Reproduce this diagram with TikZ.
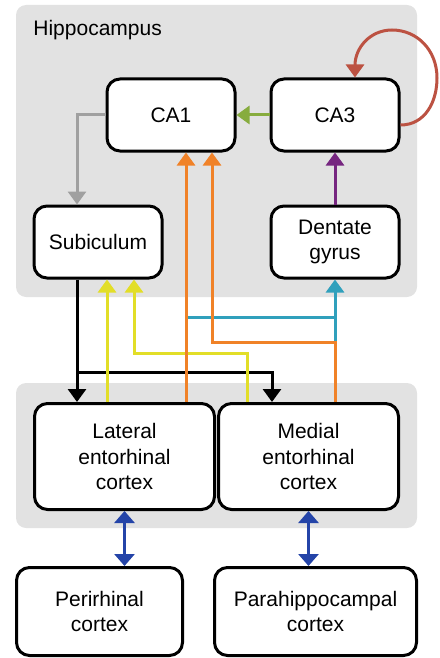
\documentclass[tikz,border=0pt]{standalone}
\usepackage{fontspec}
\setmainfont{Liberation Sans}
\usetikzlibrary{arrows.meta}
\definecolor{panelgray}{RGB}{226,226,226}
\definecolor{cagreen}{RGB}{135,172,62}
\definecolor{loopred}{RGB}{188,82,66}
\definecolor{dgpurple}{RGB}{118,38,128}
\definecolor{subgray}{RGB}{160,160,160}
\definecolor{pporange}{RGB}{240,130,40}
\definecolor{ppyellow}{RGB}{226,222,40}
\definecolor{ppteal}{RGB}{48,160,188}
\definecolor{ecblue}{RGB}{36,68,168}
\begin{document}
\begin{tikzpicture}[x=0.5pt,y=-0.5pt,
	box/.style={draw, line width=1.5pt, rounded corners=6.5pt, fill=white, align=center, inner sep=0pt, font=\fontsize{10.5}{12.75}\selectfont},
	panel/.style={fill=panelgray, rounded corners=5pt},
	conn/.style={line width=1.5pt, -{Triangle[width=9pt,length=6.5pt]}},
	twoway/.style={line width=1.6pt, {Triangle[width=10pt,length=6pt]}-{Triangle[width=10pt,length=6pt]}}]
		\useasboundingbox (0,0) rectangle (439,658);
		% grey panels
		\fill[panel] (16,5) rectangle (417,297);
		\fill[panel] (16,383) rectangle (417,528);
		\node[anchor=west, inner sep=0pt, font=\fontsize{10.5}{12.75}\selectfont] (hippo) at (33,30) {Hippocampus};
		% regions
		\node[box, minimum width=64pt, minimum height=36pt] (ca1) at (171,115) {CA1};
		\node[box, minimum width=64pt, minimum height=36pt] (ca3) at (335,115) {CA3};
		\node[box, minimum width=64pt, minimum height=36pt] (sub) at (98,242) {Subiculum};
		\node[box, minimum width=64pt, minimum height=36pt] (dg) at (335,242) {Dentate\\gyrus};
		\node[box, minimum width=90pt, minimum height=53pt] (lec) at (124.5,456.5) {Lateral\\entorhinal\\cortex};
		\node[box, minimum width=90pt, minimum height=53pt] (mec) at (308.5,456.5) {Medial\\entorhinal\\cortex};
		\node[box, minimum width=83pt, minimum height=44pt] (prc) at (99.5,611.5) {Perirhinal\\cortex};
		\node[box, minimum width=101pt, minimum height=44pt] (phc) at (315.5,611.5) {Parahippocampal\\cortex};
		% hippocampal loop
		\draw[conn, cagreen] (ca3.west) -- (ca1.east);
		\draw[conn, loopred] ([yshift=-5pt]ca3.east) .. controls (425,125) and (437,102) .. (437,78)
			.. controls (437,50) and (417,30) .. (392,30)
			.. controls (370,30) and (355,48) .. ([xshift=10pt]ca3.north);
		\draw[conn, dgpurple] (dg.north) -- (ca3.south);
		\draw[conn, subgray] (ca1.west) -| ([xshift=-10.5pt]sub.north);
		% subiculum output
		\coordinate (subsplit) at (77,372);
		\draw[conn] ([xshift=-10.5pt]sub.south) -- ([xshift=-23.75pt]lec.north);
		\draw[conn] (subsplit) -| ([xshift=-18.25pt]mec.north);
		% perforant path
		\draw[conn, ppteal] (186,317) -| (dg.south);
		\draw[line width=1.5pt, ppteal] (335,342) -- (335,317);
		\draw[conn, ppyellow] ([xshift=-8.75pt]lec.north) -- ([xshift=4.5pt]sub.south);
		\draw[conn, ppyellow] ([xshift=-30.75pt]mec.north) |- (134,353) -- ([xshift=18pt]sub.south);
		\draw[conn, pporange] ([xshift=30.75pt]lec.north) -- ([xshift=7.5pt]ca1.south);
		\draw[conn, pporange] ([xshift=13.25pt]mec.north) |- (212,342) -- ([xshift=20.5pt]ca1.south);
		% cortical inputs
		\draw[twoway, ecblue] (lec.south) -- (lec.south |- prc.north);
		\draw[twoway, ecblue] (mec.south) -- (mec.south |- phc.north);
	\end{tikzpicture}
\end{document}
